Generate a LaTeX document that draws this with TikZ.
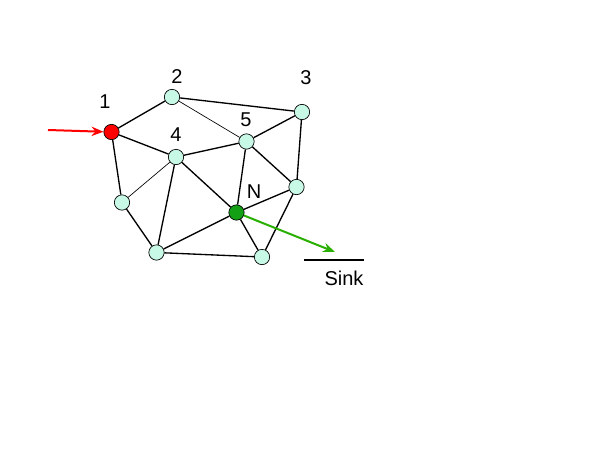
\documentclass[tikz,border=0pt]{standalone}
\usepackage{fontspec}
\setmainfont{Liberation Sans}
\usetikzlibrary{arrows.meta}

\definecolor{mint}{RGB}{200,248,230}
\definecolor{leafgreen}{RGB}{20,160,20}
\definecolor{arrowgreen}{RGB}{40,175,0}

\tikzset{
  dot/.style={circle, draw, fill=mint, inner sep=0pt, minimum size=11.5pt, line width=0.5pt},
  lbl/.style={font=\fontsize{15}{17}\selectfont},
  link/.style={line width=1pt},
  thinlink/.style={line width=0.5pt}
}

\begin{document}
\begin{tikzpicture}[x=0.75pt, y=-0.75pt]
    \useasboundingbox (0,0) rectangle (599,450);

    % Define the sensor nodes
    \node[dot, fill=red] (n1) at (111.5,132) {};
    \node[dot] (n2) at (172,97) {};
    \node[dot] (n3) at (302,112) {};
    \node[dot] (n4) at (176,157) {};
    \node[dot] (n5) at (246.5,141.5) {};
    \node[dot] (n6) at (296.5,187) {};
    \node[dot, fill=leafgreen] (nN) at (236.5,212.5) {};
    \node[dot] (n7) at (122,202.5) {};
    \node[dot] (n8) at (156.5,252.5) {};
    \node[dot] (n9) at (262,257) {};

    % Draw the links
    \draw[link] (n1) -- (n2);
    \draw[link] (n2) -- (n3);
    \draw[thinlink] (n2) -- (n5);
    \draw[link] (n3) -- (n5);
    \draw[link] (n3) -- (n6);
    \draw[link] (n1) -- (n4);
    \draw[link] (n1) -- (n7);
    \draw[link] (n4) -- (n5);
    \draw[thinlink] (n4) -- (n7);
    \draw[link] (n4) -- (n8);
    \draw[link] (n4) -- (nN);
    \draw[link] (n5) -- (nN);
    \draw[link] (n5) -- (n6);
    \draw[link] (nN) -- (n6);
    \draw[link] (nN) -- (n8);
    \draw[link] (nN) -- (n9);
    \draw[link] (n7) -- (n8);
    \draw[link] (n8) -- (n9);
    \draw[link] (n6) -- (n9);

    % Source and sink
    \coordinate (src) at (48,130);
    \coordinate (sinkL) at (304,260);
    \coordinate (sinkR) at (364,260);
    \coordinate (tip) at (335,252);
    \draw[red, line width=1.5pt, -{Stealth[length=9pt, width=7pt, inset=3pt]}] (src) -- (n1);
    \draw[arrowgreen, line width=1.5pt, -{Stealth[length=9pt, width=7pt, inset=3pt]}] (nN) -- (tip);
    \draw[line width=2pt] (sinkL) -- (sinkR);

    % Place the labels
    \node[lbl] (l1) at (105,102) {1};
    \node[lbl] (l2) at (177,77) {2};
    \node[lbl] (l3) at (306,78) {3};
    \node[lbl] (l4) at (176,135) {4};
    \node[lbl] (l5) at (246,120) {5};
    \node[lbl] (lN) at (254,192) {N};
    \node[lbl] (lsink) at (344,278) {Sink};

\end{tikzpicture}
\end{document}
